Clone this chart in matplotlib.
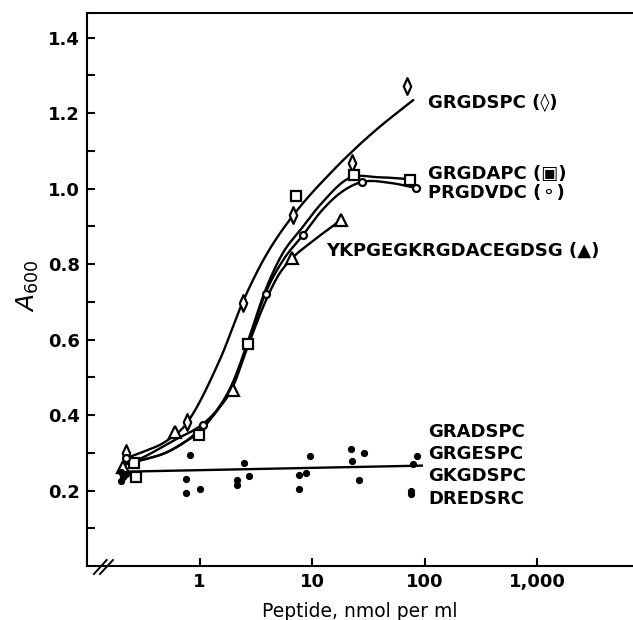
import numpy as np
import matplotlib
matplotlib.use('Agg')
import matplotlib.pyplot as plt
from matplotlib.path import Path

dsp_x = [0.22, 0.78, 2.43, 6.8, 22.5, 70]
dsp_y = [0.300, 0.381, 0.698, 0.930, 1.068, 1.272]
dap_x = [0.26, 0.27, 0.98, 2.67, 7.17, 23.3, 74]
dap_y = [0.273, 0.236, 0.348, 0.588, 0.981, 1.036, 1.023]
dvd_x = [0.22, 1.07, 3.88, 8.27, 27.9, 83]
dvd_y = [0.285, 0.373, 0.720, 0.877, 1.018, 1.002]
ykp_x = [0.21, 0.61, 1.98, 6.6, 18]
ykp_y = [0.262, 0.355, 0.467, 0.815, 0.917]

# inactive peptides (GRADSPC, GRGESPC, GKGDSPC, DREDSRC)
ctrl_x = [0.20, 0.21, 0.20, 0.22, 0.815, 0.757, 0.757, 1.0, 2.46, 2.17, 2.17, 2.74,
          9.47, 7.63, 8.78, 7.63, 22.2, 28.9, 22.4, 26.1, 86.0, 78.0, 75.2, 75.2]
ctrl_y = [0.250, 0.235, 0.225, 0.245, 0.295, 0.231, 0.193, 0.205, 0.273, 0.229, 0.214, 0.239,
          0.291, 0.240, 0.246, 0.203, 0.311, 0.300, 0.278, 0.229, 0.292, 0.271, 0.200, 0.190]

# hand-drawn fitted curves
fit_dsp_x = [0.22, 0.3, 0.5, 0.78, 1.53, 2.38, 3.83, 6.8, 15.5, 35, 79]
fit_dsp_y = [0.285, 0.300, 0.330, 0.381, 0.550, 0.695, 0.820, 0.930, 1.050, 1.150, 1.235]
fit_dap_x = [0.22, 0.3, 0.5, 0.75, 1.0, 1.4, 1.94, 2.64, 3.83, 5.5, 7.83, 12, 21, 40, 74]
fit_dap_y = [0.270, 0.280, 0.300, 0.330, 0.355, 0.410, 0.480, 0.589, 0.730, 0.830, 0.890, 0.960, 1.027, 1.030, 1.025]
fit_dvd_x = [0.22, 0.3, 0.5, 0.75, 1.07, 1.5, 2.0, 2.7, 3.83, 5.5, 8.27, 12, 18, 27.9, 50, 83]
fit_dvd_y = [0.270, 0.280, 0.300, 0.330, 0.370, 0.420, 0.490, 0.590, 0.722, 0.810, 0.877, 0.940, 0.990, 1.018, 1.015, 1.002]
fit_ykp_x = [0.22, 0.3, 0.61, 1.0, 1.4, 1.94, 2.7, 3.83, 5.0, 6.6, 10, 18]
fit_ykp_y = [0.270, 0.285, 0.335, 0.370, 0.410, 0.470, 0.585, 0.700, 0.770, 0.815, 0.860, 0.917]
fit_ctrl_x = [0.22, 94]
fit_ctrl_y = [0.250, 0.266]

x_ticks = [1, 10, 100, 1000]
x_ticklabels = ['1', '10', '100', '1,000']
y_ticks = [0.2, 0.4, 0.6, 0.8, 1.0, 1.2, 1.4]
y_minor = [0.1, 0.3, 0.5, 0.7, 0.9, 1.1, 1.3]


def smooth(xs, ys, n=300):
    # cubic hermite through the traced points, in log-x
    u = np.log10(xs)
    y = np.asarray(ys, dtype=float)
    d = np.diff(y) / np.diff(u)
    m = np.empty_like(y)
    m[0], m[-1] = d[0], d[-1]
    m[1:-1] = (d[:-1] + d[1:]) / 2
    uu = np.linspace(u[0], u[-1], n)
    idx = np.clip(np.searchsorted(u, uu) - 1, 0, len(u) - 2)
    h = u[idx + 1] - u[idx]
    t = (uu - u[idx]) / h
    h00 = 2 * t**3 - 3 * t**2 + 1
    h10 = t**3 - 2 * t**2 + t
    h01 = -2 * t**3 + 3 * t**2
    h11 = t**3 - t**2
    yy = h00 * y[idx] + h10 * h * m[idx] + h01 * y[idx + 1] + h11 * h * m[idx + 1]
    return 10**uu, yy


tall_diamond = Path([(0, 1), (0.45, 0), (0, -1), (-0.45, 0), (0, 1)],
                    [Path.MOVETO, Path.LINETO, Path.LINETO, Path.LINETO, Path.CLOSEPOLY])

fig = plt.figure(figsize=(6.33, 6.2), dpi=100)
ax = fig.add_axes([0.1374, 0.0871, 0.8626, 0.8919])
ax.set_xscale('log')

for fx, fy in [(fit_dsp_x, fit_dsp_y), (fit_dap_x, fit_dap_y),
               (fit_dvd_x, fit_dvd_y), (fit_ykp_x, fit_ykp_y)]:
    sx, sy = smooth(fx, fy)
    ax.plot(sx, sy, color='black', lw=1.7, zorder=2, solid_capstyle='round')
ax.plot(fit_ctrl_x, fit_ctrl_y, color='black', lw=1.7, zorder=2)

mk = dict(linestyle='none', markerfacecolor='white', markeredgecolor='black',
          markeredgewidth=1.6, zorder=3)
ax.plot(dsp_x, dsp_y, marker=tall_diamond, markersize=12, **mk)
ax.plot(dap_x, dap_y, marker='s', markersize=6.5, **mk)
ax.plot(dvd_x, dvd_y, marker='o', markersize=5, **mk)
ax.plot(ykp_x, ykp_y, marker='^', markersize=8, **mk)
ax.plot(ctrl_x, ctrl_y, 'o', color='black', markersize=4.2, zorder=3)

ax.set_xlim(0.1, 7050)
ax.set_ylim(0, 1.4655)

ax.set_xticks(x_ticks)
ax.set_xticklabels(x_ticklabels)
ax.xaxis.set_minor_locator(matplotlib.ticker.NullLocator())
ax.set_yticks(y_ticks)
ax.set_yticklabels(['%.1f' % v for v in y_ticks])
ax.set_yticks(y_minor, minor=True)
ax.tick_params(which='both', direction='in', length=6, width=1.5, labelsize=13, pad=5)
for lab in ax.get_xticklabels() + ax.get_yticklabels():
    lab.set_fontweight('bold')

ax.spines['right'].set_visible(False)
for s in ['left', 'bottom', 'top']:
    ax.spines[s].set_linewidth(1.5)

# axis break on the x axis
ax.plot([0.0128, 0.036], [-0.0145, 0.0108], color='black', lw=1.4,
        transform=ax.transAxes, clip_on=False)
ax.plot([0.0238, 0.0476], [-0.0145, 0.0108], color='black', lw=1.4,
        transform=ax.transAxes, clip_on=False)

ax.set_xlabel('Peptide, nmol per ml', fontsize=13.5, labelpad=8)
fig.text(0.0442, 0.5395, r'$A_{600}$', fontsize=18, rotation=90, ha='center', va='center')

lab = dict(fontsize=13, fontweight='bold', va='center', ha='left')
ax.text(107, 1.227, 'GRGDSPC (\u25ca)', **lab)
ax.text(107, 1.040, 'GRGDAPC (\u25a3)', **lab)
ax.text(107, 0.989, 'PRGDVDC (\u26ac)', **lab)
ax.text(13.3, 0.835, 'YKPGEGKRGDACEGDSG (\u25b2)', **lab)
ax.text(107, 0.355, 'GRADSPC', **lab)
ax.text(107, 0.296, 'GRGESPC', **lab)
ax.text(107, 0.238, 'GKGDSPC', **lab)
ax.text(107, 0.178, 'DREDSRC', **lab)

fig.savefig('out.png', dpi=100)
